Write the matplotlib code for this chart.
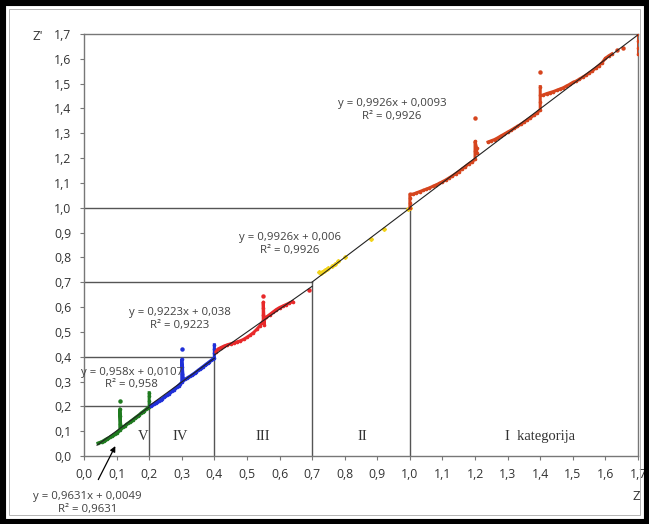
import matplotlib
matplotlib.use("Agg")
import numpy as np
import matplotlib.pyplot as plt
from matplotlib.patches import Rectangle

# category V (green)
v_x = [0.043, 0.05, 0.055, 0.06, 0.065, 0.07, 0.075, 0.08, 0.085, 0.09, 0.095, 0.10, 0.105, 0.11,
       0.11, 0.11, 0.11, 0.113, 0.12, 0.125, 0.13, 0.135, 0.14, 0.145, 0.15, 0.155, 0.16, 0.165,
       0.17, 0.175, 0.18, 0.185, 0.19, 0.195, 0.20, 0.20, 0.20, 0.20]
v_y = [0.052, 0.055, 0.058, 0.062, 0.066, 0.070, 0.073, 0.077, 0.081, 0.085, 0.089, 0.094, 0.099, 0.106,
       0.13, 0.16, 0.19, 0.112, 0.118, 0.122, 0.127, 0.132, 0.137, 0.142, 0.147, 0.152, 0.157, 0.162,
       0.167, 0.173, 0.178, 0.183, 0.188, 0.194, 0.199, 0.22, 0.24, 0.255]
v_out = (0.11, 0.223)

# category IV (blue)
iv_x = [0.205, 0.21, 0.215, 0.22, 0.225, 0.23, 0.235, 0.24, 0.245, 0.25, 0.255, 0.26, 0.265, 0.27,
        0.275, 0.28, 0.285, 0.29, 0.295, 0.30, 0.30, 0.30, 0.30, 0.305, 0.31, 0.315, 0.32, 0.325,
        0.33, 0.335, 0.34, 0.345, 0.35, 0.355, 0.36, 0.365, 0.37, 0.375, 0.38, 0.385, 0.39, 0.395,
        0.40, 0.40, 0.40, 0.40]
iv_y = [0.203, 0.207, 0.211, 0.215, 0.219, 0.223, 0.227, 0.231, 0.236, 0.241, 0.246, 0.251, 0.256, 0.261,
        0.267, 0.272, 0.278, 0.284, 0.29, 0.298, 0.33, 0.36, 0.39, 0.305, 0.309, 0.313, 0.317, 0.321,
        0.326, 0.33, 0.335, 0.34, 0.345, 0.35, 0.355, 0.36, 0.365, 0.37, 0.375, 0.38, 0.385, 0.39,
        0.395, 0.415, 0.43, 0.448]
iv_out = (0.30, 0.431)

# category III (red)
iii_x = [0.405, 0.41, 0.42, 0.43, 0.44, 0.45, 0.46, 0.47, 0.48, 0.49, 0.50, 0.51, 0.52, 0.53, 0.54,
         0.55, 0.55, 0.55, 0.55, 0.553, 0.553, 0.56, 0.57, 0.58, 0.59, 0.60, 0.61, 0.62, 0.63, 0.64]
iii_y = [0.42, 0.43, 0.437, 0.443, 0.448, 0.452, 0.456, 0.46, 0.464, 0.47, 0.478, 0.487, 0.497, 0.51, 0.525,
         0.545, 0.57, 0.595, 0.62, 0.528, 0.55, 0.56, 0.57, 0.58, 0.59, 0.598, 0.604, 0.61, 0.616, 0.622]
iii_out = [(0.55, 0.645), (0.69, 0.669)]

# category II (yellow)
ii_x = [0.722, 0.726, 0.73, 0.735, 0.74, 0.745, 0.75, 0.76, 0.77, 0.78, 0.80, 0.88, 0.92, 0.995, 1.0]
ii_y = [0.74, 0.738, 0.742, 0.745, 0.75, 0.752, 0.758, 0.765, 0.775, 0.785, 0.80, 0.875, 0.915, 0.995, 1.0]

# category I (orange-red), three runs
i1_x = [1.0, 1.0, 1.0, 1.0, 1.01, 1.02, 1.03, 1.04, 1.05, 1.06, 1.07, 1.08, 1.09, 1.10, 1.11, 1.12,
        1.13, 1.14, 1.15, 1.16, 1.17, 1.18, 1.19, 1.20, 1.20, 1.20, 1.205, 1.205]
i1_y = [1.0, 1.02, 1.04, 1.055, 1.055, 1.06, 1.065, 1.07, 1.075, 1.08, 1.086, 1.092, 1.098, 1.105, 1.112, 1.12,
        1.128, 1.137, 1.146, 1.156, 1.166, 1.176, 1.185, 1.195, 1.23, 1.267, 1.24, 1.22]
i2_x = [1.24, 1.25, 1.26, 1.27, 1.28, 1.29, 1.30, 1.31, 1.32, 1.33, 1.34, 1.35, 1.36, 1.37, 1.38,
        1.39, 1.40, 1.40, 1.40, 1.40]
i2_y = [1.265, 1.27, 1.275, 1.282, 1.29, 1.297, 1.305, 1.312, 1.32, 1.328, 1.336, 1.345, 1.354, 1.363, 1.372,
        1.382, 1.395, 1.425, 1.455, 1.488]
i3_x = [1.41, 1.42, 1.43, 1.44, 1.45, 1.46, 1.47, 1.48, 1.49, 1.50, 1.51, 1.52, 1.53, 1.54, 1.55,
        1.56, 1.57, 1.58, 1.59, 1.60, 1.61, 1.62]
i3_y = [1.455, 1.46, 1.464, 1.468, 1.473, 1.478, 1.483, 1.49, 1.497, 1.505, 1.51, 1.518, 1.526, 1.534, 1.543,
        1.552, 1.562, 1.573, 1.585, 1.602, 1.612, 1.62]
i_out = [(1.20, 1.363), (1.40, 1.546), (1.635, 1.637), (1.655, 1.642)]
i_end_x = [1.70, 1.70, 1.70, 1.70]
i_end_y = [1.70, 1.67, 1.645, 1.62]

# trend lines: slope, intercept, x range, label
trends = [
    (0.9631, 0.0049, 0.04, 0.20, "y = 0,9631x + 0,0049\nR² = 0,9631"),
    (0.958, 0.0107, 0.20, 0.40, "y = 0,958x + 0,0107\nR² = 0,958"),
    (0.9223, 0.038, 0.40, 0.70, "y = 0,9223x + 0,038\nR² = 0,9223"),
    (0.9926, 0.006, 0.70, 1.00, "y = 0,9926x + 0,006\nR² = 0,9926"),
    (0.9926, 0.0093, 1.00, 1.70, "y = 0,9926x + 0,0093\nR² = 0,9926"),
]
label_pos = [(0.01, -0.19), (0.147, 0.313), (0.294, 0.552), (0.632, 0.853), (0.945, 1.395)]

bounds = [0.2, 0.4, 0.7, 1.0]
cat_names = ["V", "IV", "III", "II", "I  kategorija"]
cat_x = [0.181, 0.294, 0.549, 0.853, 1.40]

fig = plt.figure(figsize=(6.49, 5.24), dpi=100)
ax = fig.add_axes([84/649, 1-456/524, (638-84)/649, (456-34)/524])

green = '#1f7a1f'
blue = '#1f2fd8'
red3 = '#e8292a'
red1 = '#d6451e'
yellow = '#f2d31b'

def run(xs, ys, c):
    ax.plot(xs, ys, color=c, lw=2.2, marker='o', ms=1.6, mec=c, zorder=3)

run(v_x, v_y, green)
ax.plot(*v_out, 'o', color=green, ms=2.2, zorder=3)
run(iv_x, iv_y, blue)
ax.plot(*iv_out, 'o', color=blue, ms=2.2, zorder=3)
run(iii_x, iii_y, red3)
for p in iii_out:
    ax.plot(*p, 'o', color=red3, ms=2.2, zorder=3)
ax.plot(ii_x, ii_y, 'D', color=yellow, ms=2.0, zorder=3)
run(i1_x, i1_y, red1)
run(i2_x, i2_y, red1)
run(i3_x, i3_y, red1)
run(i_end_x, i_end_y, red1)
for p in i_out:
    ax.plot(*p, 'o', color=red1, ms=2.2, zorder=3)

for k, b, x0, x1, txt in trends:
    xs = np.array([x0, x1])
    ax.plot(xs, k*xs + b, color='#222222', lw=0.8, zorder=4)
for (k, b, x0, x1, txt), (tx, ty) in zip(trends, label_pos):
    ax.text(tx, ty, txt, ha='center', va='center', fontsize=8.2, color='#404040',
            family='Open Sans', linespacing=1.2, clip_on=False)

for b in bounds:
    ax.plot([0, b], [b, b], color='#555555', lw=1.0, zorder=2)
    ax.plot([b, b], [0, b], color='#555555', lw=1.0, zorder=2)

for name, cx in zip(cat_names, cat_x):
    ax.text(cx, 0.077, name, ha='center', va='center', fontsize=10.5,
            family='Liberation Serif', color='#333333')

ax.annotate('', xy=(0.10, 0.05), xytext=(0.04, -0.105),
            arrowprops=dict(arrowstyle='-|>', color='black', lw=0.9, mutation_scale=8),
            annotation_clip=False)

ax.set_xlim(0, 1.7)
ax.set_ylim(0, 1.7)
ticks = np.round(np.arange(0, 1.71, 0.1), 1)
ax.set_xticks(ticks)
ax.set_yticks(ticks)
ax.set_xticklabels([f"{t:.1f}".replace('.', ',') for t in ticks], family='Open Sans', fontsize=8.8, color='#333333')
ax.set_yticklabels([f"{t:.1f}".replace('.', ',') for t in ticks], family='Open Sans', fontsize=8.8, color='#333333')
ax.tick_params(direction='out', length=3, color='#777777', pad=6)
for s in ax.spines.values():
    s.set_color('#777777')
    s.set_linewidth(1.0)

fig.text(38/649, 1-36/524, "Z'", ha='center', va='center', fontsize=9.5, family='Open Sans', color='#333333')
fig.text(636/649, 1-497/524, "Z", ha='center', va='center', fontsize=9.5, family='Open Sans', color='#333333')

fig.patches.append(Rectangle((0, 0), 1, 1, transform=fig.transFigure, fill=False, lw=8, ec='black'))
fig.patches.append(Rectangle((9/649, 9/524), 1-18/649, 1-18/524, transform=fig.transFigure,
                             fill=False, lw=0.6, ec='#aaaaaa'))

fig.savefig('out.png', dpi=100)
